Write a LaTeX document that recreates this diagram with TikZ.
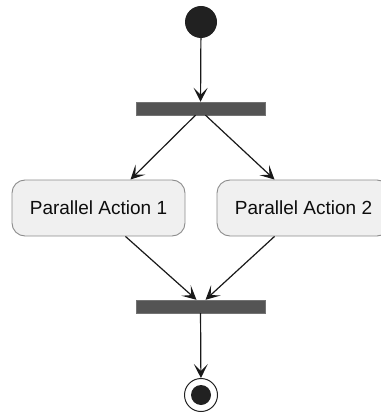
\documentclass[tikz,border=0pt]{standalone}
\usepackage{fontspec}
\setmainfont{Liberation Sans}
\usetikzlibrary{arrows.meta, calc}

\begin{document}
\begin{tikzpicture}[x=1pt, y=-1pt,
    flow/.style={-{Stealth[length=14pt, width=14pt, inset=7pt]}, line width=1.2pt, draw=black!90},
    actionbox/.style={draw=black!45, line width=0.9pt, fill=black!6, rounded corners=13pt, minimum width=173pt, minimum height=56pt, inner sep=0pt, font=\fontsize{19}{22}\selectfont, text=black!95},
    syncbar/.style={draw=black!55, fill=black!67, line width=0.4pt, minimum width=129pt, minimum height=13pt, inner sep=0pt}]
    \useasboundingbox (0,0) rectangle (380,414);
    \node[circle, fill=black!87, minimum size=32pt, inner sep=0pt] (start) at (201,22) {};
    \node[syncbar] (fork) at (200.5,108.5) {};
    \node[actionbox] (act1) at (98.5,208) {Parallel Action 1};
    \node[actionbox] (act2) at (303.5,208) {Parallel Action 2};
    \node[syncbar] (join) at (200.5,306.5) {};
    \node[circle, draw=black!87, line width=1pt, minimum size=33pt, inner sep=0pt] (stop) at (201,395) {};
    \node[circle, fill=black!87, minimum size=20pt, inner sep=0pt] (stopdot) at (stop) {};
    \draw[flow] (start) -- (fork);
    \draw[flow] ($(fork.south)+(-5,0)$) -- ($(act1.north)+(32,0)$);
    \draw[flow] ($(fork.south)+(5,0)$) -- ($(act2.north)+(-29,0)$);
    \draw[flow] ($(act1.south)+(27,0)$) -- ($(join.north)+(-4,0)$);
    \draw[flow] ($(act2.south)+(-29,0)$) -- ($(join.north)+(5,0)$);
    \draw[flow] (join) -- (stop);
\end{tikzpicture}
\end{document}
